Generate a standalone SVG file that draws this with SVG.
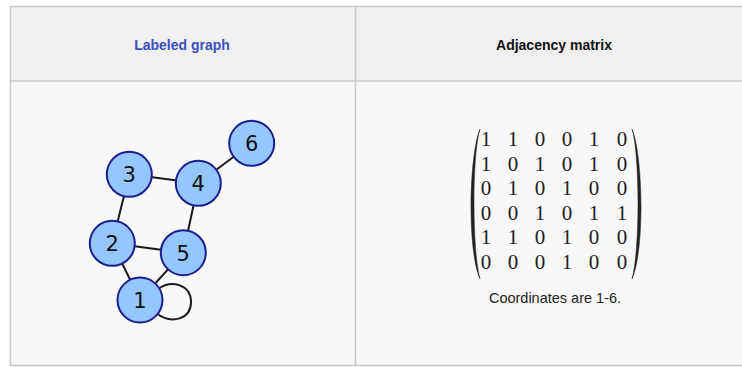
<svg xmlns="http://www.w3.org/2000/svg" width="742" height="367" viewBox="0 0 742 367">
<style>
.hdr{font-family:"Liberation Sans",Arial,sans-serif;font-size:14px;font-weight:bold;text-anchor:middle}
.node circle{fill:#94c7fd;stroke:#1c1c8e;stroke-width:2}
.node text{font-family:"DejaVu Sans",sans-serif;font-size:21px;text-anchor:middle;fill:#111}
.edge{stroke:#1a1a1a;stroke-width:2;fill:none}
.m{font-family:"Liberation Serif","Times New Roman",serif;font-size:21px;fill:#222;text-anchor:middle}
.paren{fill:#222;stroke:#222;stroke-width:0.5}
.cap{font-family:"Liberation Sans",Arial,sans-serif;font-size:14.5px;fill:#222;text-anchor:middle}
</style>
<rect x="0" y="0" width="742" height="367" fill="#ffffff"/>
<g id="table">
<rect x="10" y="6" width="740" height="75" fill="#f0f0f0"/>
<rect x="10" y="81" width="740" height="284" fill="#f8f8f8"/>
<line x1="10" y1="6.5" x2="742" y2="6.5" stroke="#c8c8c8" stroke-width="1.5"/>
<line x1="10.5" y1="6" x2="10.5" y2="366" stroke="#c8c8c8" stroke-width="1.5"/>
<line x1="355.5" y1="6" x2="355.5" y2="366" stroke="#c8c8c8" stroke-width="1.5"/>
<line x1="10" y1="81" x2="742" y2="81" stroke="#c8c8c8" stroke-width="1.5"/>
<line x1="10" y1="365.5" x2="742" y2="365.5" stroke="#c8c8c8" stroke-width="1.5"/>
<text class="hdr" x="182" y="50" fill="#3b4fbf">Labeled graph</text>
<text class="hdr" x="554" y="50" fill="#111">Adjacency matrix</text>
</g>
<g id="connectors">
<line class="edge" x1="140" y1="300" x2="112.3" y2="243.3"/>
<line class="edge" x1="140" y1="300" x2="183.3" y2="252.7"/>
<line class="edge" x1="112.3" y1="243.3" x2="129.3" y2="174.3"/>
<line class="edge" x1="112.3" y1="243.3" x2="183.3" y2="252.7"/>
<line class="edge" x1="129.3" y1="174.3" x2="198.3" y2="183.3"/>
<line class="edge" x1="198.3" y1="183.3" x2="183.3" y2="252.7"/>
<line class="edge" x1="198.3" y1="183.3" x2="251.7" y2="143.3"/>
<path class="edge" d="M158,289 C172,279 191,285 191,302 C191,319 172,325 156,313"/>
</g>
<g id="node1" class="node"><circle cx="140" cy="300" r="22.5"/><text x="140" y="308">1</text></g>
<g id="node2" class="node"><circle cx="112.3" cy="243.3" r="22.5"/><text x="112.3" y="251">2</text></g>
<g id="node3" class="node"><circle cx="129.3" cy="174.3" r="22.5"/><text x="129.3" y="182">3</text></g>
<g id="node4" class="node"><circle cx="198.3" cy="183.3" r="22.5"/><text x="198.3" y="191">4</text></g>
<g id="node5" class="node"><circle cx="183.3" cy="252.7" r="22.5"/><text x="183.3" y="260.5">5</text></g>
<g id="node6" class="node"><circle cx="251.7" cy="143.3" r="22.5"/><text x="251.7" y="151">6</text></g>
<g id="matrix">
<path class="paren" d="M480,129 C469,155 467,250 480,279 C472,250 472,155 480,129 Z"/>
<path class="paren" d="M632,129 C643,155 645,250 632,279 C640,250 640,155 632,129 Z"/>
<g class="m">
<text y="146"><tspan x="486">1</tspan><tspan x="513">1</tspan><tspan x="540">0</tspan><tspan x="567">0</tspan><tspan x="594">1</tspan><tspan x="622">0</tspan></text>
<text y="170.5"><tspan x="486">1</tspan><tspan x="513">0</tspan><tspan x="540">1</tspan><tspan x="567">0</tspan><tspan x="594">1</tspan><tspan x="622">0</tspan></text>
<text y="195"><tspan x="486">0</tspan><tspan x="513">1</tspan><tspan x="540">0</tspan><tspan x="567">1</tspan><tspan x="594">0</tspan><tspan x="622">0</tspan></text>
<text y="219.5"><tspan x="486">0</tspan><tspan x="513">0</tspan><tspan x="540">1</tspan><tspan x="567">0</tspan><tspan x="594">1</tspan><tspan x="622">1</tspan></text>
<text y="244"><tspan x="486">1</tspan><tspan x="513">1</tspan><tspan x="540">0</tspan><tspan x="567">1</tspan><tspan x="594">0</tspan><tspan x="622">0</tspan></text>
<text y="268.5"><tspan x="486">0</tspan><tspan x="513">0</tspan><tspan x="540">0</tspan><tspan x="567">1</tspan><tspan x="594">0</tspan><tspan x="622">0</tspan></text>
</g>
<text class="cap" x="555" y="303">Coordinates are 1-6.</text>
</g>
</svg>
